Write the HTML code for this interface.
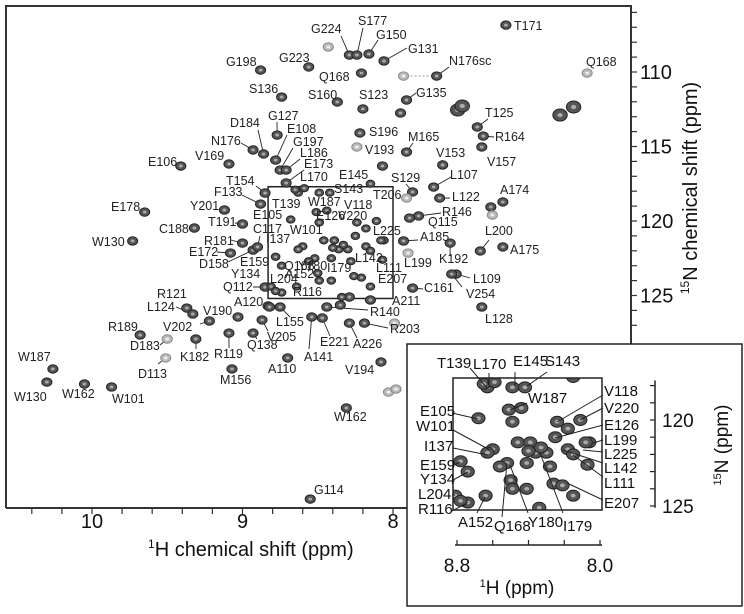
<!DOCTYPE html>
<html><head><meta charset="utf-8">
<style>
html,body{margin:0;padding:0;background:#fff;}
svg{display:block;font-family:"Liberation Sans",Arial,sans-serif;}
</style></head>
<body>
<svg id="chart" width="744" height="614" viewBox="0 0 744 614" xmlns="http://www.w3.org/2000/svg">
<g id="main"></g>
<g id="inset"></g>
</svg>
<script>
// ---------- main spectrum data (1H ppm, 15N ppm, assignment) ----------
const peakH = [7.25,8.29,8.24,8.16,8.06,8.43,8.88,8.56,8.21,8.74,8.37,8.20,7.91,7.95,7.71,7.93,6.71,7.57,7.54,6.89,6.80,7.44,7.40,7.41,7.91,7.67,7.73,7.87,8.22,8.24,8.07,9.41,9.09,8.93,8.86,8.77,8.78,8.75,8.71,8.71,8.85,8.88,7.91,9.65,9.12,9.73,9.32,9.00,9.00,9.08,8.93,8.90,8.85,9.37,9.33,8.83,9.03,9.22,9.68,8.75,8.82,8.87,8.93,9.50,9.31,9.09,9.07,8.70,8.54,8.47,8.29,8.19,7.99,8.44,8.35,8.08,8.03,7.98,8.31,8.55,10.26,10.30,10.05,9.87,9.51,7.27,7.35,7.34,7.69,7.83,7.89,7.42,7.27,7.93,7.90,7.62,7.58,7.61,7.87,7.41,8.29,8.15];
const peakN = [106.85,108.86,108.86,108.79,109.26,108.32,109.87,109.66,110.07,111.68,112.01,112.48,111.88,112.75,110.27,110.27,110.07,112.55,112.28,112.89,112.35,113.69,114.30,115.03,115.37,116.24,117.72,118.05,114.09,115.03,116.31,116.31,116.17,115.23,115.50,114.23,115.91,116.58,116.58,117.45,118.12,118.86,118.46,119.40,119.26,121.34,120.47,120.20,121.48,122.15,121.95,121.74,124.43,125.84,126.24,125.70,126.44,126.71,127.65,125.77,125.77,126.64,127.52,127.92,127.92,127.52,129.93,129.19,126.44,126.51,126.85,126.85,126.85,125.77,125.64,129.46,131.48,131.28,132.55,138.66,129.93,130.81,130.94,131.14,129.19,118.72,119.06,119.60,118.46,119.66,119.80,122.01,121.74,121.34,122.15,121.48,123.56,123.56,124.50,125.77,125.10,125.30];
const peakLabel = ["T171","G224","S177","G150","G131","","G198","G223","Q168","S136","S160","S123","G135","","N176sc","","Q168","","","","","T125","R164","V157","M165","V153","L107","S129","S196","","V193","E106","V169","N176","D184","G127","E108","G197","L186","E173","T154","F133","T206","E178","Y201","W130","C188","T191","R181","E172","D158","C117","Q112","R121","L124","A120","V190","V202","R189","L155","","V205","Q138","D183","K182","R119","M156","A110","A141","E221","A226","R203","","R140","","V194","","","W162","G114","W187","W130","W162","W101","D113","A174","","","L122","R146","Q115","L200","A175","A185","","K192","L109","V254","C161","L128","",""];
const peakFaint = [5,15,16,29,42,63,72,76,77,84,87,94];
// ---------- inset (box region) data ----------
const insetH = [8.63,8.65,8.59,8.49,8.42,8.51,8.68,8.24,8.11,8.49,8.18,8.25,8.06,8.08,8.18,8.15,8.07,8.60,8.63,8.46,8.39,8.36,8.30,8.41,8.28,8.52,8.56,8.78,8.74,8.50,8.49,8.41,8.26,8.21,8.15,8.81,8.74,8.78,8.64,8.34,8.15,8.44,8.33,8.40];
const insetN = [118.1,117.9,117.8,118.1,118.1,119.4,119.9,120.1,120.0,120.1,120.5,121.0,121.3,121.3,121.7,122.0,122.6,121.7,121.9,121.3,121.3,121.9,121.9,122.5,122.7,122.5,122.7,122.4,123.0,123.5,124.0,124.0,123.7,123.8,124.4,124.4,124.8,124.7,124.4,125.1,117.5,119.3,121.6,121.8];
// tick labels
const mainXTicks = [10,9,8];
const mainYTicks = [110,115,120,125];
const insetXTicks = ["8.8","8.0"];
const insetYTicks = [120,125];

// ---------- layout (label anchor pixels, leader starts) ----------
const labelPos = {0:[514,30],1:[311,33],2:[358,25],3:[376,39],4:[408,53],6:[226,66],7:[279,62],8:[319,81],9:[249,93],10:[308,99],11:[359,99],12:[416,97],14:[449,65],16:[586,66],21:[485,117],22:[495,141],23:[487,166],24:[408,141],25:[436,157],26:[450,179],27:[391,182],28:[369,136],30:[365,154],31:[148,166],32:[195,160],33:[211,145],34:[230,127],35:[268,120],36:[287,133],37:[293,146],38:[300,157],39:[304,168],40:[226,185],41:[214,196],42:[373,199],43:[111,211],44:[190,210],45:[92,246],46:[159,233],47:[208,226],48:[204,245],49:[189,256],50:[199,268],51:[253,233],52:[223,291],53:[157,298],54:[147,311],55:[234,306],56:[203,315],57:[163,331],58:[108,331],59:[276,326],61:[267,341],62:[247,349],63:[130,350],64:[180,361],65:[214,358],66:[220,384],67:[268,373],68:[304,361],69:[320,346],70:[353,348],71:[390,333],73:[370,316],75:[345,374],78:[334,421],79:[314,494],80:[18,361],81:[14,401],82:[62,398],83:[112,403],84:[138,378],85:[500,194],88:[452,201],89:[442,216],90:[428,226],91:[485,235],92:[510,254],93:[420,241],95:[439,263],96:[473,283],97:[466,298],98:[424,292],99:[485,323]};
const leaderFrom = {1:[341,36],2:[363,28],3:[378,40],4:[407,48],12:[416,93],14:[449,67],21:[488,119],22:[494,137],24:[413,143],25:[442,160],26:[451,177],27:[406,184],33:[241,143],34:[258,130],35:[277,122],36:[287,135],37:[293,148],38:[300,159],39:[304,170],40:[256,186],41:[242,195],47:[235,223],48:[231,240],49:[217,252],50:[228,262],51:[260,236],52:[253,287],54:[176,307],57:[200,324],59:[290,317],61:[268,331],62:[257,339],63:[160,345],64:[196,349],65:[229,348],68:[309,349],69:[330,336],70:[357,338],71:[388,328],73:[368,310],84:[158,364],88:[450,198],89:[441,213],91:[489,240],93:[418,240],95:[450,256],96:[470,278],97:[462,287],98:[423,289]};
const boxLabels = [["L170",300,181],["E145",339,179],["S143",334,193],["T139",272,208],["W187",308,206],["E105",253,219],["V118",344,209],["E126",316,220],["V220",338,220],["L225",373,235],["W101",290,234],["I137",266,243],["E159",240,266],["Y134",231,278],["L142",355,262],["L199",404,267],["Q168",284,270],["Y180",298,270],["I179",327,272],["L111",376,272],["E207",378,283],["L204",270,283],["A152",285,278],["R116",293,296],["A211",392,305]];
const insetLabels = [["T139",437,368,470,368,487,388],["L170",473,369,489,373,489,387],["E145",513,366,515,372,515,386],["S143",545,366,547,372,527,386],["W187",528,403,527,403,510,410],["V118",604,396,603,395,557,422],["V220",604,413,603,408,580,420],["E126",604,430,603,425,555,438],["L199",604,445,603,440,593,443],["L225",604,459,603,452,583,450],["L142",604,473,603,463,563,450],["L111",604,488,603,477,573,455],["E207",604,508,603,500,567,483],["E105",420,416,452,413,478,419],["W101",416,431,453,430,490,450],["I137",424,451,453,448,488,455],["E159",420,470,452,466,460,462],["Y134",420,484,453,480,468,472],["L204",418,499,452,495,455,495],["R116",418,514,452,511,467,503],["A152",458,527,477,513,485,497],["Q168",494,531,502,517,507,463],["Y180",528,527,528,513,510,465],["I179",563,531,563,513,540,453]];

const NS = "http://www.w3.org/2000/svg";
function mk(tag, attrs, parent){const e=document.createElementNS(NS,tag);for(const k in attrs)e.setAttribute(k,attrs[k]);parent.appendChild(e);return e;}
const xMain = h => 92 + (10 - h) * 150.5;
const yMain = n => 72 + (n - 110) * 14.9;
const xIn = h => 457 + (8.8 - h) * 178.75;
const yIn = n => 420 + (n - 120) * 17.2;

const main = document.getElementById('main');
const inset = document.getElementById('inset');

function drawPeak(parent, cx, cy, r, faint, nm){
  const g = mk('g', {}, parent);
  
  
  mk('ellipse', {cx:cx, cy:cy, rx:r*1.2, ry:r, fill: faint ? '#bbb' : '#555', stroke: faint ? '#888' : '#222', 'stroke-width':1}, g);
  mk('ellipse', {cx:cx, cy:cy, rx:r*0.45, ry:r*0.35, fill: faint ? '#eee' : '#aaa'}, g);
  return g;
}

// main frame
const frame = mk('path', {d:'M6,508 L6,6 L631,6 L631,344 M6,508 L407,508', fill:'none', stroke:'#333', 'stroke-width':2}, main);



// x ticks
for (let v = 10.6; v >= 7.9; v -= 0.2) {
  const x = xMain(v); if (x < 8 || x > 405) continue;
  const t = mk('line', {x1:x, y1:508, x2:x, y2:514, stroke:'#333', 'stroke-width':1.2}, main);
  
  
}
mainXTicks.forEach(v => {
  const t = mk('text', {x:xMain(v), y:528, 'font-size':20, 'text-anchor':'middle', fill:'#111'}, main);
  t.textContent = String(v);
  
  
});
const xt = mk('text', {x:148, y:556, 'font-size':20, fill:'#111'}, main);
xt.innerHTML = '<tspan font-size="12" dy="-8">1</tspan><tspan dy="8">H chemical shift (ppm)</tspan>';



// y ticks
for (let v = 106; v <= 127; v += 1) {
  const y = yMain(v); if (y < 8 || y > 342) continue;
  const t = mk('line', {x1:631, y1:y, x2:637, y2:y, stroke:'#333', 'stroke-width':1.2}, main);
  
  
}
mainYTicks.forEach(v => {
  const t = mk('text', {x:640, y:yMain(v) + 7, 'font-size':20, fill:'#111'}, main);
  t.textContent = String(v);
  
  
});
const yt = mk('text', {x:0, y:0, 'font-size':20, fill:'#111', 'text-anchor':'middle', transform:'translate(697,188) rotate(-90)'}, main);
yt.innerHTML = '<tspan font-size="12" dy="-8">15</tspan><tspan dy="8">N chemical shift (ppm)</tspan>';



// zoom box
const zb = mk('rect', {x:xMain(8.83), y:yMain(117.7), width:xMain(8.0)-xMain(8.83), height:yMain(125.2)-yMain(117.7), fill:'none', stroke:'#222', 'stroke-width':1.5}, main);



// N176sc dashed link
const dl = mk('line', {x1:xMain(peakH[14]), y1:yMain(peakN[14]), x2:xMain(peakH[15]), y2:yMain(peakN[15]), stroke:'#999', 'stroke-width':1, 'stroke-dasharray':'2,2'}, main);



// leaders
for (const k in leaderFrom) {
  const i = +k, s = leaderFrom[k];
  const l = mk('line', {x1:s[0], y1:s[1], x2:xMain(peakH[i]), y2:yMain(peakN[i]), stroke:'#222', 'stroke-width':0.9}, main);
  
  
}
// main peaks
peakH.forEach((h, i) => {
  const big = (i >= 17 && i <= 20);
  drawPeak(main, xMain(h), yMain(peakN[i]), big ? 6 : 4.2, peakFaint.includes(i), 'peak-' + (peakLabel[i] || 'unassigned').toLowerCase());
});
// inset region peaks shown in main
insetH.forEach((h, i) => {
  drawPeak(main, xMain(h), yMain(insetN[i]), 3.6, false, 'box-peak');
});
// main labels
for (const k in labelPos) {
  const p = labelPos[k];
  const t = mk('text', {x:p[0], y:p[1], 'font-size':12.5, fill:'#222'}, main);
  t.textContent = peakLabel[+k];
  
  
}
boxLabels.forEach(b => {
  const t = mk('text', {x:b[1], y:b[2], 'font-size':12.5, fill:'#222'}, main);
  t.textContent = b[0];
  
  
});

// ---------- inset ----------
const ib = mk('rect', {x:407, y:344, width:335, height:262, fill:'#fff', stroke:'#222', 'stroke-width':1.5}, inset);


const cp = mk('clipPath', {id:'inclip'}, inset);
mk('rect', {x:453, y:378, width:149, height:132}, cp);
const ig = mk('g', {'clip-path':'url(#inclip)'}, inset);


insetH.forEach((h, i) => {
  drawPeak(ig, xIn(h), yIn(insetN[i]), 5.5, false, 'inset-peak');
});
const ipr = mk('rect', {x:453, y:378, width:149, height:132, fill:'none', stroke:'#222', 'stroke-width':1.5}, inset);


insetLabels.forEach(L => {
  const l = mk('line', {x1:L[3], y1:L[4], x2:L[5], y2:L[6], stroke:'#222', 'stroke-width':1}, inset);
  
  
  const t = mk('text', {x:L[1], y:L[2], 'font-size':15, fill:'#111'}, inset);
  t.textContent = L[0];
  
  
});
// inset x axis
const ixa = mk('line', {x1:455, y1:545, x2:602, y2:545, stroke:'#222', 'stroke-width':1.5}, inset);


for (let v = 8.8; v >= 7.99; v -= 0.2) {
  const t = mk('line', {x1:xIn(v), y1:545, x2:xIn(v), y2:540, stroke:'#222', 'stroke-width':1.2}, inset);
  
  
}
insetXTicks.forEach(v => {
  const t = mk('text', {x:xIn(parseFloat(v)), y:572, 'font-size':19, 'text-anchor':'middle', fill:'#111'}, inset);
  t.textContent = v;
  
  
});
const ixt = mk('text', {x:517, y:594, 'font-size':19, 'text-anchor':'middle', fill:'#111'}, inset);
ixt.innerHTML = '<tspan font-size="11" dy="-7">1</tspan><tspan dy="7">H  (ppm)</tspan>';


// inset y axis
const iya = mk('line', {x1:655, y1:yIn(117.7), x2:655, y2:yIn(125.1), stroke:'#222', 'stroke-width':1.5}, inset);


for (let v = 118; v <= 125; v += 1) {
  const t = mk('line', {x1:655, y1:yIn(v), x2:650, y2:yIn(v), stroke:'#222', 'stroke-width':1.2}, inset);
  
  
}
insetYTicks.forEach(v => {
  const t = mk('text', {x:662, y:yIn(v) + 7, 'font-size':19, fill:'#111'}, inset);
  t.textContent = String(v);
  
  
});
const iyt = mk('text', {x:0, y:0, 'font-size':19, 'text-anchor':'middle', fill:'#111', transform:'translate(728,445) rotate(-90)'}, inset);
iyt.innerHTML = '<tspan font-size="11" dy="-7">15</tspan><tspan dy="7">N (ppm)</tspan>';


</script>
</body></html>
